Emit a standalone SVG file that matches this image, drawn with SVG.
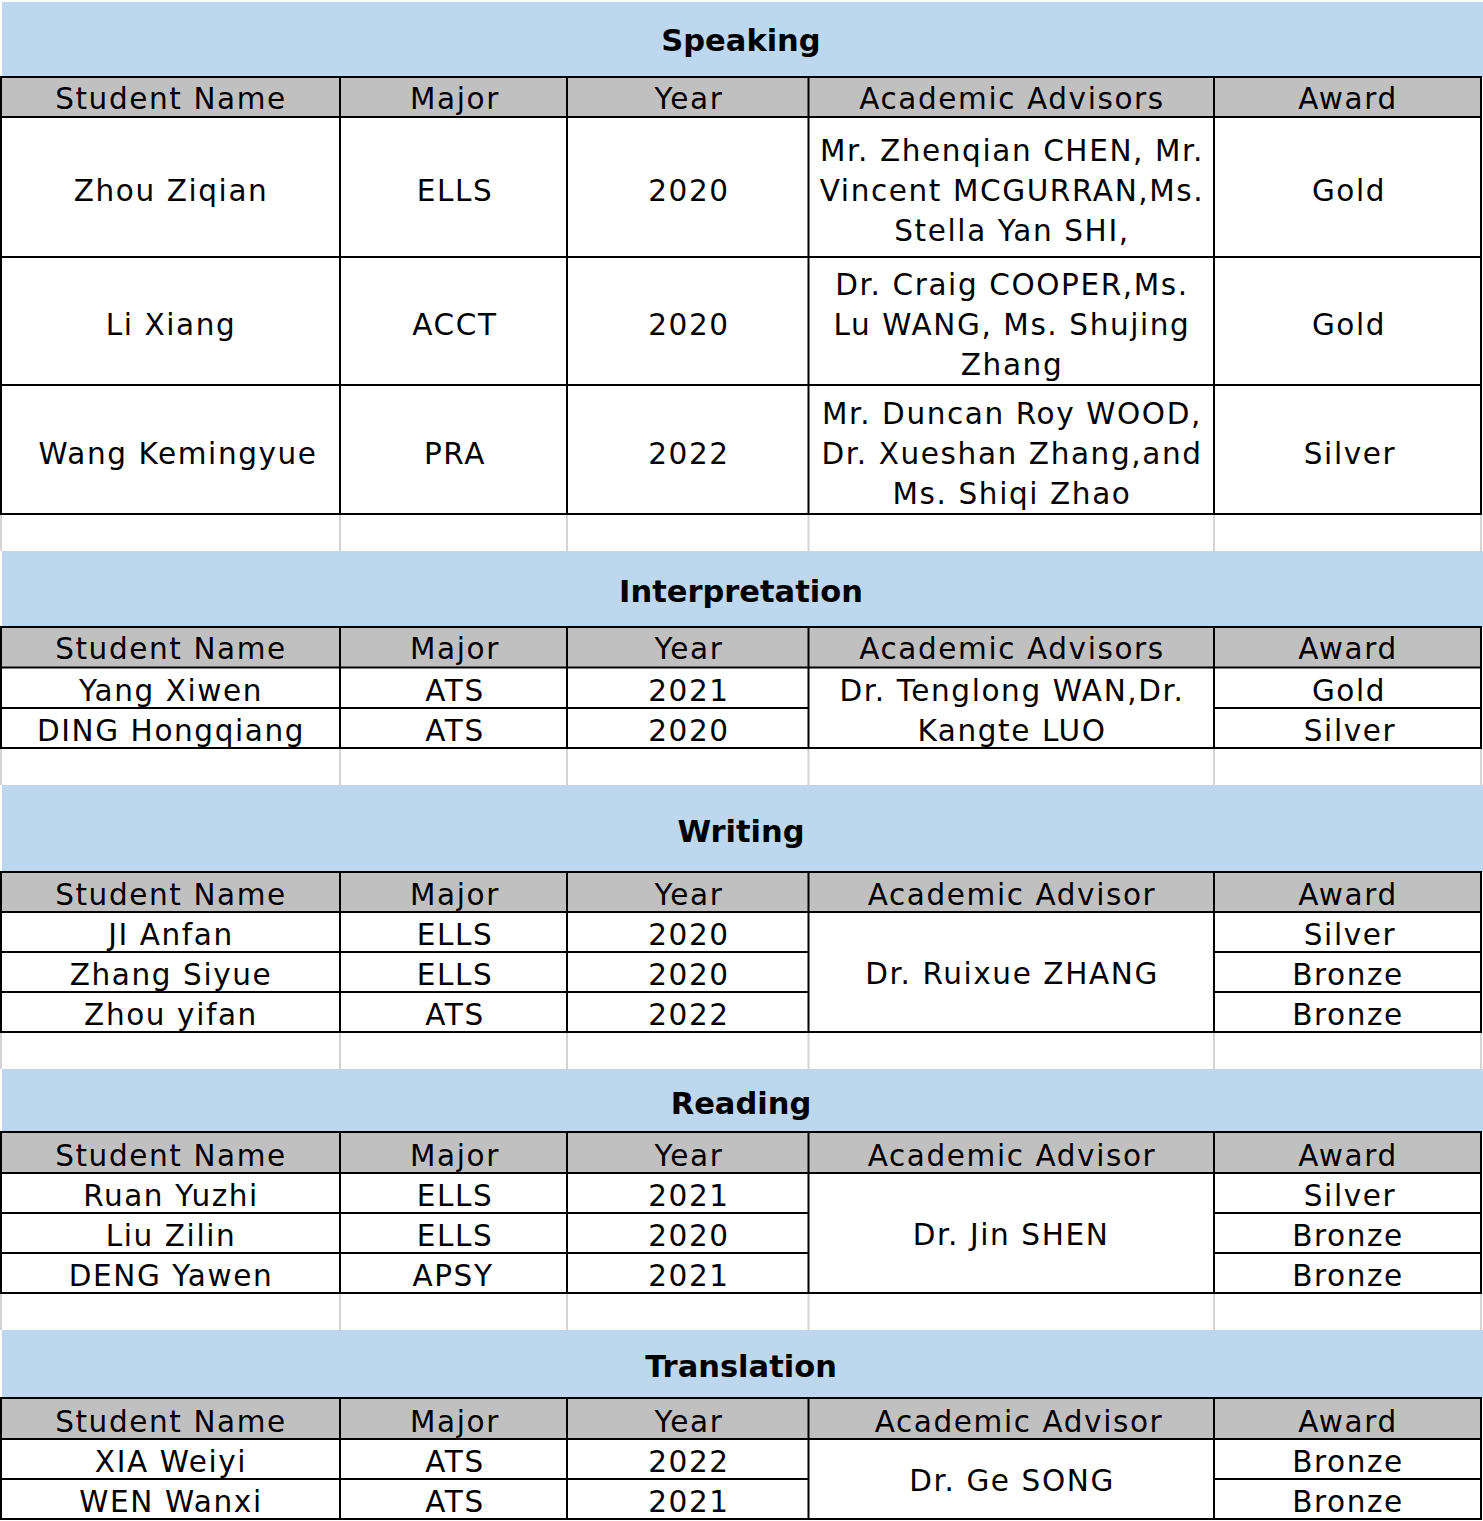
<svg xmlns="http://www.w3.org/2000/svg" width="1483" height="1521" viewBox="0 0 1483 1521">
<style>
.t{font-family:"DejaVu Sans","Verdana",sans-serif;font-size:29.5px;letter-spacing:1.6px;fill:#000;text-anchor:middle}
.h{font-family:"DejaVu Sans","Verdana",sans-serif;font-size:30.5px;font-weight:bold;fill:#000;text-anchor:middle}
.blue{fill:#bdd7ee}
.grey{fill:#c0c0c0}
.b{stroke:#000;stroke-width:2;fill:none}
.g{stroke:#d4d4d4;stroke-width:2;fill:none}
</style>
<rect x="0" y="0" width="1483" height="1521" fill="#fff"/>

<!-- Speaking -->
<g id="speaking">
<rect class="blue" x="2" y="2" width="1481" height="75"/>
<text class="h" x="741" y="51">Speaking</text>
<rect class="grey" x="1" y="77" width="1480" height="40"/>
<g class="t">
<text x="171" y="109">Student Name</text>
<text x="455" y="109">Major</text>
<text x="689" y="109">Year</text>
<text x="1012" y="109">Academic Advisors</text>
<text x="1348" y="109">Award</text>

<text x="171" y="201">Zhou Ziqian</text>
<text x="455" y="201">ELLS</text>
<text x="689" y="201">2020</text>
<text x="1012" y="161">Mr. Zhenqian CHEN, Mr.</text>
<text x="1012" y="201">Vincent MCGURRAN,Ms.</text>
<text x="1012" y="241">Stella Yan SHI,</text>
<text x="1349" y="201">Gold</text>

<text x="171" y="335">Li Xiang</text>
<text x="455" y="335">ACCT</text>
<text x="689" y="335">2020</text>
<text x="1012" y="295">Dr. Craig COOPER,Ms.</text>
<text x="1012" y="335">Lu WANG, Ms. Shujing</text>
<text x="1012" y="375">Zhang</text>
<text x="1349" y="335">Gold</text>

<text x="178" y="464">Wang Kemingyue</text>
<text x="455" y="464">PRA</text>
<text x="689" y="464">2022</text>
<text x="1012" y="424">Mr. Duncan Roy WOOD,</text>
<text x="1012" y="464">Dr. Xueshan Zhang,and</text>
<text x="1012" y="504">Ms. Shiqi Zhao</text>
<text x="1350" y="464">Silver</text>
</g>
<path class="b" d="M0 77H1482M0 117H1482M0 257H1482M0 385H1482M0 514H1482M1 77V514M340 77V514M567 77V514M808.5 77V514M1214 77V514M1481 77V514"/>
</g>
<path class="g" d="M1 515V551M340 515V551M567 515V551M808.5 515V551M1214 515V551M1481 515V551"/>

<!-- Interpretation -->
<g id="interpretation">
<rect class="blue" x="2" y="551" width="1481" height="76"/>
<text class="h" x="741" y="602">Interpretation</text>
<rect class="grey" x="1" y="627" width="1480" height="40"/>
<g class="t">
<text x="171" y="659">Student Name</text>
<text x="455" y="659">Major</text>
<text x="689" y="659">Year</text>
<text x="1012" y="659">Academic Advisors</text>
<text x="1348" y="659">Award</text>
<text x="171" y="701">Yang Xiwen</text>
<text x="455" y="701">ATS</text>
<text x="689" y="701">2021</text>
<text x="1349" y="701">Gold</text>
<text x="171" y="741">DING Hongqiang</text>
<text x="455" y="741">ATS</text>
<text x="689" y="741">2020</text>
<text x="1350" y="741">Silver</text>
<text x="1012" y="701">Dr. Tenglong WAN,Dr.</text>
<text x="1012" y="741">Kangte LUO</text>
</g>
<path class="b" d="M0 627H1482M0 667.5H1482M0 708H808.5M1214 708H1482M0 748H1482M1 627V748M340 627V748M567 627V748M808.5 627V748M1214 627V748M1481 627V748"/>
</g>
<path class="g" d="M1 749V785M340 749V785M567 749V785M808.5 749V785M1214 749V785M1481 749V785"/>

<!-- Writing -->
<g id="writing">
<rect class="blue" x="2" y="785" width="1481" height="87"/>
<text class="h" x="741" y="842">Writing</text>
<rect class="grey" x="1" y="872" width="1480" height="40"/>
<g class="t">
<text x="171" y="905">Student Name</text>
<text x="455" y="905">Major</text>
<text x="689" y="905">Year</text>
<text x="1012" y="905">Academic Advisor</text>
<text x="1348" y="905">Award</text>
<text x="171" y="945">JI Anfan</text>
<text x="455" y="945">ELLS</text>
<text x="689" y="945">2020</text>
<text x="1350" y="945">Silver</text>
<text x="171" y="985">Zhang Siyue</text>
<text x="455" y="985">ELLS</text>
<text x="689" y="985">2020</text>
<text x="1348" y="985">Bronze</text>
<text x="171" y="1025">Zhou yifan</text>
<text x="455" y="1025">ATS</text>
<text x="689" y="1025">2022</text>
<text x="1348" y="1025">Bronze</text>
<text x="1012" y="984">Dr. Ruixue ZHANG</text>
</g>
<path class="b" d="M0 872H1482M0 912H1482M0 952H808.5M1214 952H1482M0 992H808.5M1214 992H1482M0 1032H1482M1 872V1032M340 872V1032M567 872V1032M808.5 872V1032M1214 872V1032M1481 872V1032"/>
</g>
<path class="g" d="M1 1033V1069M340 1033V1069M567 1033V1069M808.5 1033V1069M1214 1033V1069M1481 1033V1069"/>

<!-- Reading -->
<g id="reading">
<rect class="blue" x="2" y="1069" width="1481" height="63"/>
<text class="h" x="741" y="1114">Reading</text>
<rect class="grey" x="1" y="1132" width="1480" height="41"/>
<g class="t">
<text x="171" y="1166">Student Name</text>
<text x="455" y="1166">Major</text>
<text x="689" y="1166">Year</text>
<text x="1012" y="1166">Academic Advisor</text>
<text x="1348" y="1166">Award</text>
<text x="171" y="1206">Ruan Yuzhi</text>
<text x="455" y="1206">ELLS</text>
<text x="689" y="1206">2021</text>
<text x="1350" y="1206">Silver</text>
<text x="171" y="1246">Liu Zilin</text>
<text x="455" y="1246">ELLS</text>
<text x="689" y="1246">2020</text>
<text x="1348" y="1246">Bronze</text>
<text x="171" y="1286">DENG Yawen</text>
<text x="453" y="1286">APSY</text>
<text x="689" y="1286">2021</text>
<text x="1348" y="1286">Bronze</text>
<text x="1011" y="1245">Dr. Jin SHEN</text>
</g>
<path class="b" d="M0 1132H1482M0 1173H1482M0 1213H808.5M1214 1213H1482M0 1253H808.5M1214 1253H1482M0 1293H1482M1 1132V1293M340 1132V1293M567 1132V1293M808.5 1132V1293M1214 1132V1293M1481 1132V1293"/>
</g>
<path class="g" d="M1 1294V1330M340 1294V1330M567 1294V1330M808.5 1294V1330M1214 1294V1330M1481 1294V1330"/>

<!-- Translation -->
<g id="translation">
<rect class="blue" x="2" y="1330" width="1481" height="68"/>
<text class="h" x="741" y="1377">Translation</text>
<rect class="grey" x="1" y="1398" width="1480" height="41"/>
<g class="t">
<text x="171" y="1432">Student Name</text>
<text x="455" y="1432">Major</text>
<text x="689" y="1432">Year</text>
<text x="1019" y="1432">Academic Advisor</text>
<text x="1348" y="1432">Award</text>
<text x="171" y="1472">XIA Weiyi</text>
<text x="455" y="1472">ATS</text>
<text x="689" y="1472">2022</text>
<text x="1348" y="1472">Bronze</text>
<text x="171" y="1512">WEN Wanxi</text>
<text x="455" y="1512">ATS</text>
<text x="689" y="1512">2021</text>
<text x="1348" y="1512">Bronze</text>
<text x="1012" y="1491">Dr. Ge SONG</text>
</g>
<path class="b" d="M0 1398H1482M0 1439H1482M0 1479H808.5M1214 1479H1482M0 1519H1482M1 1398V1520M340 1398V1520M567 1398V1520M808.5 1398V1520M1214 1398V1520M1481 1398V1520"/>
</g>
</svg>
